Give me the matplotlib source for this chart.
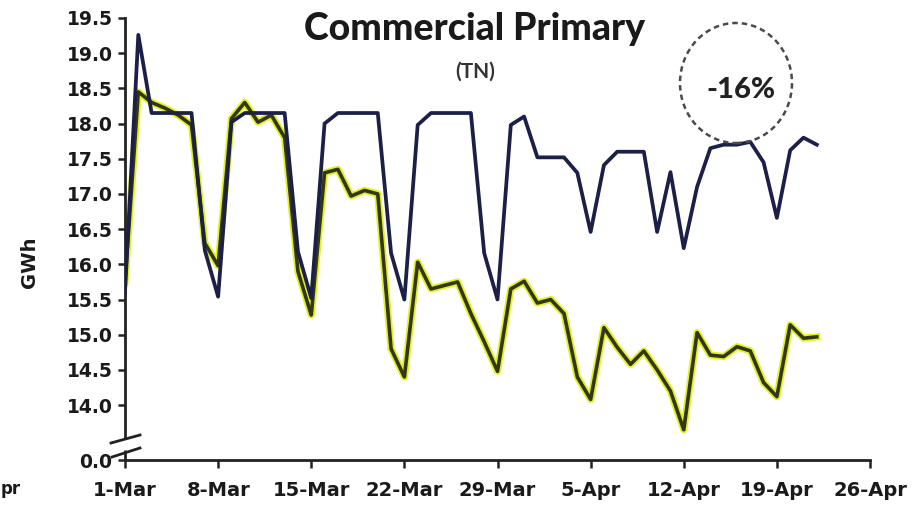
import matplotlib
matplotlib.use("Agg")
import matplotlib.pyplot as plt
from matplotlib.patches import Ellipse
from matplotlib.lines import Line2D
import pandas as pd

# Daily energy, 1-Mar to 22-Apr
dates = pd.date_range("2020-03-01", periods=53, freq="D")

gwh_baseline = [15.6, 19.26, 18.15, 18.15, 18.15, 18.15, 16.2, 15.54, 18.02, 18.15,
                18.15, 18.15, 18.15, 16.18, 15.52, 18.0, 18.15, 18.15, 18.15, 18.15,
                16.16, 15.5, 17.98, 18.15, 18.15, 18.15, 18.15, 16.16, 15.5, 17.98,
                18.1, 17.52, 17.52, 17.52, 17.3, 16.46, 17.41, 17.6, 17.6, 17.6,
                16.46, 17.31, 16.23, 17.1, 17.65, 17.7, 17.7, 17.74, 17.45, 16.66,
                17.62, 17.8, 17.7]

gwh_actual = [15.75, 18.45, 18.3, 18.22, 18.12, 17.98, 16.3, 15.98, 18.07, 18.3,
              18.02, 18.12, 17.8, 15.9, 15.28, 17.3, 17.35, 16.97, 17.05, 17.0,
              14.8, 14.4, 16.03, 15.65, 15.7, 15.75, 15.3, 14.9, 14.48, 15.65,
              15.76, 15.45, 15.5, 15.3, 14.4, 14.08, 15.1, 14.82, 14.58, 14.77,
              14.5, 14.2, 13.65, 15.03, 14.71, 14.69, 14.83, 14.77, 14.32, 14.12,
              15.14, 14.95, 14.97]

x_tick_dates = pd.date_range("2020-03-01", "2020-04-26", freq="7D")
x_tick_labels = ["1-Mar", "8-Mar", "15-Mar", "22-Mar", "29-Mar",
                 "5-Apr", "12-Apr", "19-Apr", "26-Apr"]

y_floor = 13.22  # broken axis: bottom of the axis stands for zero
y_tick_values = [y_floor, 14.0, 14.5, 15.0, 15.5, 16.0, 16.5, 17.0,
                 17.5, 18.0, 18.5, 19.0, 19.5]
y_tick_labels = ["0.0", "14.0", "14.5", "15.0", "15.5", "16.0", "16.5",
                 "17.0", "17.5", "18.0", "18.5", "19.0", "19.5"]

change_label = "-16%"

W, H = 924, 507
fig = plt.figure(figsize=(W / 100, H / 100), dpi=100)
fig.patch.set_facecolor("white")

def fx(px):
    return px / W

def fy(py):
    return 1 - py / H

ax = fig.add_axes([fx(125), fy(460), fx(870) - fx(125), fy(18) - fy(460)])

navy = "#1c2048"
lime = "#dcf000"
olive = "#34361a"
text_dark = "#1a1a1a"

# lime glow with a dark core, then the navy series on top
ax.plot(dates, gwh_actual, color=lime, lw=5.2, alpha=0.85, solid_joinstyle="round", zorder=2)
ax.plot(dates, gwh_actual, color=olive, lw=2.6, solid_joinstyle="round", zorder=3)
ax.plot(dates, gwh_baseline, color=navy, lw=2.7, solid_joinstyle="round", zorder=4)

ax.set_xlim(x_tick_dates[0], x_tick_dates[-1])
ax.set_ylim(y_floor, 19.5)

ax.set_xticks(x_tick_dates)
ax.set_xticklabels(x_tick_labels)
ax.set_yticks(y_tick_values)
ax.set_yticklabels(y_tick_labels)

for s in ["top", "right"]:
    ax.spines[s].set_visible(False)
for s in ["left", "bottom"]:
    ax.spines[s].set_color("#222222")
    ax.spines[s].set_linewidth(2.0)

# left spine stops above the break
ax.spines["left"].set_bounds(13.53, 19.5)
ax.plot([0, 0], [y_floor, 13.36], transform=ax.get_yaxis_transform(),
        color="#222222", lw=2.0, clip_on=False, solid_capstyle="butt", zorder=5)

ax.tick_params(axis="y", direction="out", length=5, width=1.8, color="#222222",
               pad=4, labelcolor=text_dark)
ax.tick_params(axis="x", direction="out", length=6, width=1.8, color="#222222",
               pad=9, labelcolor=text_dark)
for lab in ax.get_yticklabels():
    lab.set_fontfamily(["DejaVu Sans"])
    lab.set_fontweight("bold")
    lab.set_fontsize(13.5)
for lab in ax.get_xticklabels():
    lab.set_fontfamily(["DejaVu Sans"])
    lab.set_fontweight("bold")
    lab.set_fontsize(14)

# axis break marks
for (x0, y0, x1, y1) in [(111, 443, 140, 435), (112, 457, 140, 448)]:
    fig.add_artist(Line2D([fx(x0), fx(x1)], [fy(y0), fy(y1)], transform=fig.transFigure,
                          color="#222222", lw=2.0))

# titles
fig.text(fx(475), fy(29), "Commercial Primary", ha="center", va="center",
         fontsize=27, fontweight="black", family=["Lato", "DejaVu Sans"], color=text_dark)
fig.text(fx(475), fy(72), "(TN)", ha="center", va="center",
         fontsize=15, fontweight="bold", family=["Lato", "DejaVu Sans"], color="#333333")

fig.text(fx(29), fy(262), "GWh", ha="center", va="center", rotation=90,
         fontsize=14, fontweight="bold", family=["DejaVu Sans"], color=text_dark)

# dashed callout circle with the change figure
fig.add_artist(Ellipse((fx(736), fy(83)), fx(112), 120 / H, transform=fig.transFigure,
                       fill=False, edgecolor="#4a4a4a", lw=1.8, ls=(0, (2.2, 1.6))))
fig.text(fx(741), fy(90), change_label, ha="center", va="center",
         fontsize=21, fontweight="black", family=["Lato", "DejaVu Sans"], color="#222222")

# tail of a label at the left edge
fig.text(fx(1), fy(489), "pr", ha="left", va="center",
         fontsize=12, fontweight="bold", family=["DejaVu Sans"], color=text_dark)

fig.savefig("out.png", dpi=100)
